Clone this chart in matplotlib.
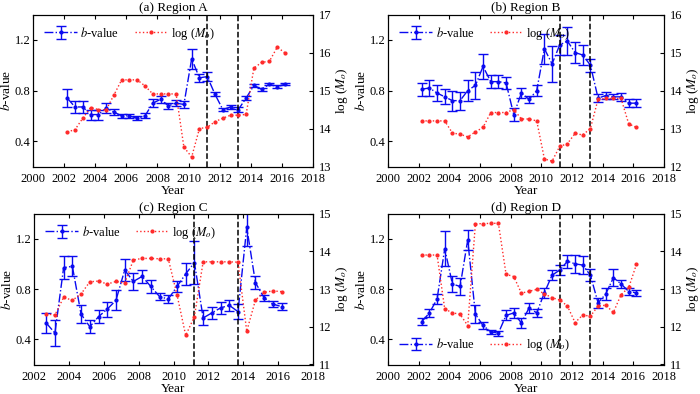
import numpy as np
import matplotlib
matplotlib.use("Agg")
import matplotlib.pyplot as plt

plt.rcParams['font.family'] = ['Liberation Serif', 'DejaVu Serif']
plt.rcParams['mathtext.fontset'] = 'stix'
plt.rcParams['font.size'] = 9

# ---------------- data ----------------
years_ab = [2002.2 + 0.5 * i for i in range(29)]
years_c = [2002.7 + 0.5 * i for i in range(28)]
years_d = years_ab

b_a = [0.74, 0.67, 0.67, 0.61, 0.61, 0.66, 0.63, 0.60, 0.60, 0.58, 0.60, 0.70, 0.73, 0.68, 0.70,
       0.69, 1.05, 0.90, 0.91, 0.77, 0.65, 0.67, 0.65, 0.74, 0.84, 0.81, 0.85, 0.83, 0.85]
e_a = [0.07, 0.05, 0.05, 0.04, 0.04, 0.04, 0.025, 0.015, 0.015, 0.015, 0.02, 0.03, 0.03, 0.025, 0.025,
       0.03, 0.08, 0.03, 0.035, 0.015, 0.015, 0.015, 0.02, 0.015, 0.015, 0.01, 0.01, 0.01, 0.01]
m_a = [13.91, 13.97, 14.27, 14.55, 14.50, 14.49, 14.88, 15.28, 15.28, 15.28, 15.12, 14.91, 14.91, 14.91, 14.91,
       13.51, 13.25, 14.00, 14.03, 14.18, 14.27, 14.35, 14.35, 14.37, 15.59, 15.74, 15.77, 16.14, 15.99]

b_b = [0.81, 0.82, 0.78, 0.75, 0.72, 0.72, 0.80, 0.84, 0.99, 0.87, 0.87, 0.86, 0.61, 0.78, 0.73,
       0.80, 1.13, 1.01, 1.16, 1.19, 1.10, 1.08, 1.00, 0.74, 0.76, 0.75, 0.75, 0.70, 0.70]
e_b = [0.05, 0.06, 0.06, 0.06, 0.08, 0.07, 0.08, 0.11, 0.10, 0.05, 0.05, 0.05, 0.05, 0.04, 0.03,
       0.04, 0.12, 0.14, 0.08, 0.11, 0.08, 0.08, 0.05, 0.03, 0.025, 0.02, 0.03, 0.03, 0.03]
m_b = [13.20, 13.20, 13.20, 13.20, 12.88, 12.85, 12.78, 12.91, 13.03, 13.42, 13.42, 13.42, 13.50, 13.25, 13.25,
       13.20, 12.20, 12.14, 12.53, 12.60, 12.87, 12.83, 13.00, 13.77, 13.79, 13.79, 13.79, 13.12, 13.03]

b_c = [0.53, 0.45, 0.97, 0.98, 0.60, 0.50, 0.58, 0.64, 0.71, 0.95, 0.86, 0.90, 0.82, 0.74,
       0.72, 0.82, 0.92, 1.01, 0.57, 0.61, 0.65, 0.67, 0.62, 1.29, 0.85, 0.73, 0.68, 0.66]
e_c = [0.08, 0.10, 0.09, 0.08, 0.07, 0.05, 0.05, 0.06, 0.08, 0.09, 0.07, 0.05, 0.05, 0.03,
       0.03, 0.04, 0.09, 0.17, 0.06, 0.045, 0.045, 0.045, 0.06, 0.15, 0.05, 0.025, 0.025, 0.025]
m_c = [12.34, 12.31, 12.78, 12.70, 12.87, 13.19, 13.21, 13.13, 13.20, 13.16, 13.77, 13.81, 13.81, 13.80,
       13.80, 12.85, 11.77, 12.27, 13.72, 13.72, 13.72, 13.72, 13.71, 11.88, 12.71, 12.91, 12.95, 12.93]

b_d = [0.54, 0.61, 0.72, 1.12, 0.84, 0.82, 1.19, 0.60, 0.51, 0.46, 0.45, 0.59, 0.61, 0.53, 0.65,
       0.61, 0.77, 0.91, 0.95, 1.02, 1.00, 0.99, 0.91, 0.69, 0.76, 0.89, 0.84, 0.78, 0.77]
e_d = [0.03, 0.03, 0.04, 0.14, 0.06, 0.07, 0.08, 0.07, 0.025, 0.015, 0.02, 0.04, 0.04, 0.04, 0.04,
       0.03, 0.04, 0.04, 0.04, 0.05, 0.07, 0.07, 0.05, 0.04, 0.05, 0.07, 0.03, 0.03, 0.025]
m_d = [13.90, 13.90, 13.90, 12.47, 12.37, 12.33, 12.03, 14.73, 14.73, 14.74, 14.74, 13.39, 13.33, 12.89, 12.94,
       12.99, 12.87, 12.77, 12.71, 12.55, 12.11, 12.31, 12.28, 12.55, 12.57, 12.38, 12.85, 13.04, 13.65]

titles = ['(a) Region A', '(b) Region B', '(c) Region C', '(d) Region D']
vlines = [[2011.2, 2013.2], [2011.2, 2013.2], [2011.2, 2013.7], [2011.2, 2013.2]]
xlims = [(2000, 2018), (2000, 2018), (2002, 2018), (2000, 2018)]
right_lims = [(13, 17), (12, 16), (11, 15), (11, 15)]
legend_locs = ['upper left', 'upper left', 'upper left', 'lower left']

panels = [
    (years_ab, b_a, e_a, m_a),
    (years_ab, b_b, e_b, m_b),
    (years_c, b_c, e_c, m_c),
    (years_d, b_d, e_d, m_d),
]

W, H = 700, 394
rects = [
    (33, 14.5, 280, 152),
    (388, 14.5, 276, 152),
    (34, 213.5, 279, 151),
    (388, 213.5, 276, 151),
]

fig = plt.figure(figsize=(7.0, 3.94), dpi=100)
blue = '#0a0af0'
red = '#ff2a2a'

for i, (x, b, e, m) in enumerate(panels):
    l, t, w, h = rects[i]
    ax = fig.add_axes([l / W, 1 - (t + h) / H, w / W, h / H])
    eb = ax.errorbar(x, b, yerr=e, color=blue, ls='-.', lw=1.0, marker='.', ms=4,
                     capsize=3.5, elinewidth=1.0, capthick=1.0, label='$b$-value')
    ax.set_xlim(*xlims[i])
    ax.set_ylim(0.2, 1.4)
    ax.set_yticks([0.4, 0.8, 1.2])
    ax.set_xticks(np.arange(xlims[i][0], 2018.1, 2))
    ax.tick_params(direction='in', top=True, length=3, labelsize=9, pad=2)
    ax.tick_params(axis='x', pad=4.5)
    for v in vlines[i]:
        ax.axvline(v, color='black', ls='--', lw=1.1, zorder=5)
    ax.set_xlabel('Year', fontsize=9.5, labelpad=0)
    ax.set_ylabel('$b$-value', fontsize=9.5, labelpad=1)
    ax.set_title(titles[i], fontsize=9.5, pad=2)

    ax2 = ax.twinx()
    ln, = ax2.plot(x, m, color=red, ls=':', lw=1.0, marker='.', ms=4, label='log ($M_o$)')
    ax2.set_ylim(*right_lims[i])
    ax2.set_yticks(np.arange(right_lims[i][0], right_lims[i][1] + 0.1, 1))
    ax2.tick_params(direction='in', length=3, labelsize=9, pad=4)
    ax2.set_ylabel('log ($M_o$)', fontsize=9.5, labelpad=2)

    leg = ax2.legend([eb, ln], ['$b$-value', 'log ($M_o$)'], loc=legend_locs[i], ncol=2,
                     frameon=False, fontsize=9, handlelength=2.6, columnspacing=1.2,
                     handletextpad=0.3, borderaxespad=0.5)

fig.savefig('out.png', dpi=100)
